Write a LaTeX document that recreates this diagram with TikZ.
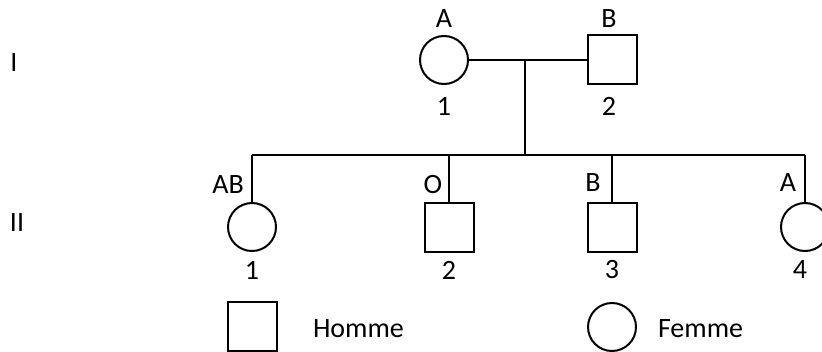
\documentclass[tikz,border=0pt]{standalone}
\usepackage{fontspec}
\setmainfont{Carlito}
\begin{document}
\begin{tikzpicture}[x=0.5pt,y=-0.5pt,line width=1pt,
  fem/.style={draw,circle,minimum size=24pt,inner sep=0pt},
  mal/.style={draw,rectangle,minimum size=24.5pt,inner sep=0pt},
  txt/.style={inner sep=0pt,font=\fontsize{14}{16}\selectfont}]
\clip (0,0) rectangle (822,352);
\fill[white] (0,0) rectangle (822,352);
% generation labels
\node[txt] (gI) at (14,63) {I};
\node[txt] (gII) at (17,223) {II};
% parents
\node[fem] (p1) at (444,60) {};
\node[mal] (p2) at (612,60) {};
\node[txt] (p1g) at (444,19) {A};
\node[txt] (p2g) at (609,19) {B};
\node[txt] (p1n) at (444,106) {1};
\node[txt] (p2n) at (609,106) {2};
\coordinate (mid) at (525,60);
\coordinate (drop) at (525,155);
\draw (p1.east) -- (p2.west);
\draw (mid) -- (drop);
% children
\node[fem] (c1) at (252,227) {};
\node[mal] (c2) at (449,227) {};
\node[mal] (c3) at (612,227) {};
\node[fem] (c4) at (805,227) {};
\coordinate (s1) at (252,155);
\coordinate (s2) at (449,155);
\coordinate (s3) at (612,155);
\coordinate (s4) at (805,155);
\draw (s1) -- (s4);
\draw (s1) -- (c1.north);
\draw (s2) -- (c2.north);
\draw (s3) -- (c3.north);
\draw (s4) -- (c4.north);
\node[txt] (c1g) at (228,185) {AB};
\node[txt] (c2g) at (433,185) {O};
\node[txt] (c3g) at (593,183) {B};
\node[txt] (c4g) at (788,183) {A};
\node[txt] (c1n) at (252,270) {1};
\node[txt] (c2n) at (449,270) {2};
\node[txt] (c3n) at (612,270) {3};
\node[txt] (c4n) at (800,270) {4};
% legend
\node[mal] (lm) at (252,326) {};
\node[txt,anchor=west] (lmt) at (312,329) {Homme};
\node[fem] (lf) at (612,327) {};
\node[txt,anchor=west] (lft) at (657,329) {Femme};
\end{tikzpicture}
\end{document}
